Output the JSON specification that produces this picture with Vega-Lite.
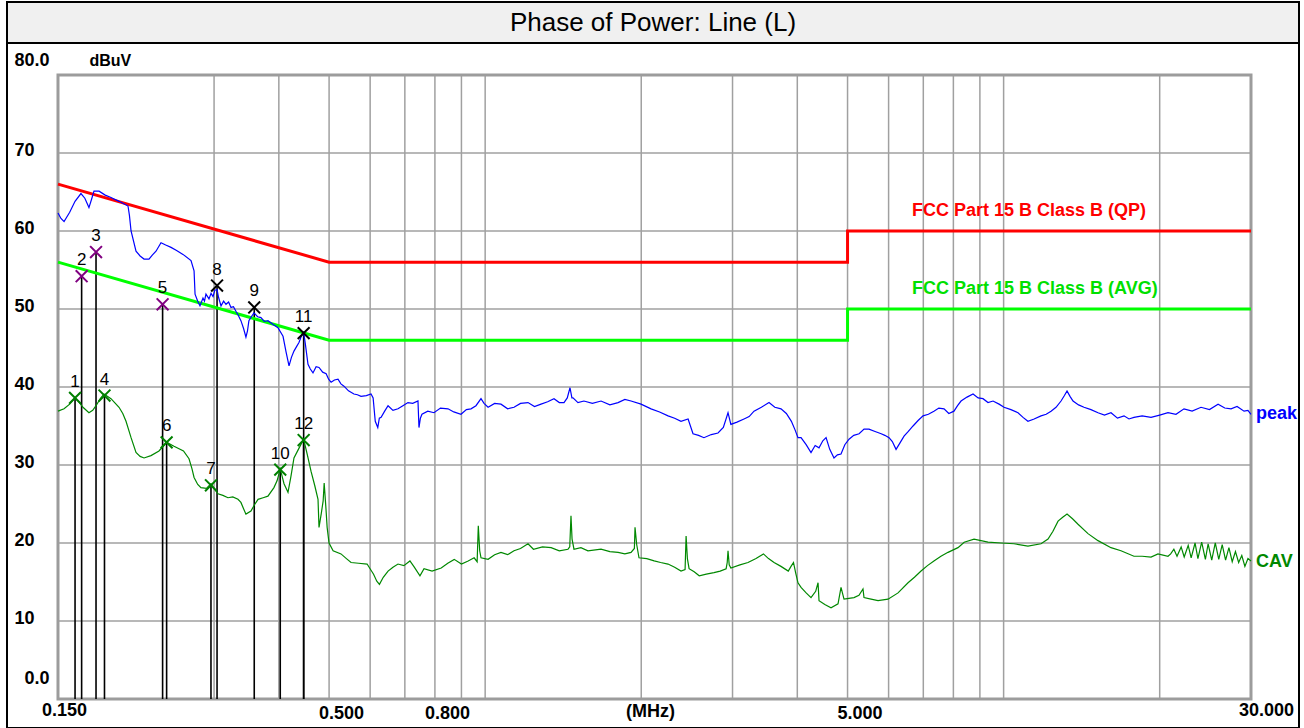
{
  "$schema": "https://vega.github.io/schema/vega-lite/v6.json",
  "background": "white",
  "padding": {"left": 6, "top": 1, "right": 5, "bottom": 0},
  "spacing": 0,
  "bounds": "flush",
  "config": {"view": {"stroke": null}, "font": "Liberation Sans"},
  "datasets": {
    "qp": [{"f":0.15,"db":66},{"f":0.5,"db":56},{"f":5,"db":56},{"f":5,"db":60},{"f":30,"db":60}],
    "avg": [{"f":0.15,"db":56},{"f":0.5,"db":46},{"f":5,"db":46},{"f":5,"db":50},{"f":30,"db":50}],
    "vgrid": [{"f":0.3},{"f":0.4},{"f":0.5},{"f":0.6},{"f":0.7},{"f":0.8},{"f":0.9},{"f":1},{"f":2},{"f":3},{"f":4},{"f":5},{"f":6},{"f":7},{"f":8},{"f":9},{"f":10},{"f":20}],
    "hgrid": [{"db":10},{"db":20},{"db":30},{"db":40},{"db":50},{"db":60},{"db":70}],
    "limitlabels": [{"label":"FCC Part 15 B Class B (QP)","f":6.658,"db":60,"lim":"QP"},{"label":"FCC Part 15 B Class B (AVG)","f":6.658,"db":50,"lim":"AVG"}],
    "endlabels": [{"label":"peak","f":30,"db":36.5,"lim":"peak"},{"label":"CAV","f":30,"db":17.6,"lim":"CAV"}],
    "markers": [
      {"n":1,"f":0.1618,"db":38.6,"det":"AVG"},
      {"n":2,"f":0.1666,"db":54.2,"det":"QP"},
      {"n":3,"f":0.1776,"db":57.3,"det":"QP"},
      {"n":4,"f":0.1844,"db":38.9,"det":"AVG"},
      {"n":5,"f":0.2387,"db":50.6,"det":"QP"},
      {"n":6,"f":0.2430,"db":32.9,"det":"AVG"},
      {"n":7,"f":0.2959,"db":27.4,"det":"AVG"},
      {"n":8,"f":0.3040,"db":53.0,"det":"PK"},
      {"n":9,"f":0.3586,"db":50.2,"det":"PK"},
      {"n":10,"f":0.4025,"db":29.4,"det":"AVG"},
      {"n":11,"f":0.4466,"db":46.9,"det":"PK"},
      {"n":12,"f":0.4466,"db":33.2,"det":"AVG"}
    ],
    "peak": [
      {"f":0.150,"db":62.3},{"f":0.1520,"db":61.6},{"f":0.1541,"db":61.2},{"f":0.1580,"db":62.4},{"f":0.1618,"db":63.8},{"f":0.1661,"db":64.8},{"f":0.1690,"db":64.2},{"f":0.1721,"db":63.0},{"f":0.1740,"db":64.0},{"f":0.1760,"db":65.1},{"f":0.1800,"db":65.1},{"f":0.1850,"db":64.6},{"f":0.1898,"db":64.3},{"f":0.1967,"db":63.8},{"f":0.2047,"db":63.2},{"f":0.2060,"db":62.0},{"f":0.2075,"db":60.0},{"f":0.2121,"db":57.4},{"f":0.2160,"db":56.8},{"f":0.2198,"db":56.4},{"f":0.2247,"db":56.4},{"f":0.2280,"db":56.9},{"f":0.2318,"db":57.4},{"f":0.2370,"db":58.5},{"f":0.2420,"db":58.2},{"f":0.2478,"db":57.9},{"f":0.2540,"db":57.5},{"f":0.2613,"db":57.0},{"f":0.2708,"db":56.2},{"f":0.2745,"db":54.9},{"f":0.2757,"db":51.9},{"f":0.2790,"db":51.0},{"f":0.2818,"db":50.4},{"f":0.2856,"db":51.4},{"f":0.2875,"db":51.0},{"f":0.2894,"db":51.9},{"f":0.2933,"db":51.3},{"f":0.2960,"db":52.0},{"f":0.2986,"db":51.6},{"f":0.3010,"db":52.4},{"f":0.3040,"db":52.5},{"f":0.3060,"db":51.5},{"f":0.3094,"db":50.4},{"f":0.3130,"db":51.0},{"f":0.3163,"db":50.6},{"f":0.3200,"db":50.9},{"f":0.3234,"db":50.2},{"f":0.3270,"db":50.3},{"f":0.3306,"db":49.7},{"f":0.3340,"db":49.2},{"f":0.3380,"db":48.5},{"f":0.3420,"db":47.5},{"f":0.3456,"db":46.4},{"f":0.3480,"db":47.2},{"f":0.3502,"db":48.5},{"f":0.3540,"db":49.0},{"f":0.3581,"db":49.5},{"f":0.3640,"db":49.0},{"f":0.3694,"db":48.9},{"f":0.3750,"db":48.4},{"f":0.3811,"db":48.5},{"f":0.3900,"db":48.0},{"f":0.3984,"db":47.6},{"f":0.4075,"db":46.5},{"f":0.4130,"db":44.5},{"f":0.4185,"db":42.7},{"f":0.4230,"db":43.8},{"f":0.4278,"db":44.6},{"f":0.4330,"db":45.2},{"f":0.4374,"db":45.7},{"f":0.4420,"db":46.5},{"f":0.4466,"db":47.0},{"f":0.4500,"db":45.5},{"f":0.4553,"db":42.9},{"f":0.4600,"db":42.3},{"f":0.4655,"db":41.8},{"f":0.4720,"db":42.6},{"f":0.4781,"db":42.5},{"f":0.4860,"db":41.9},{"f":0.4935,"db":41.7},{"f":0.4990,"db":41.0},{"f":0.5045,"db":40.6},{"f":0.5120,"db":40.9},{"f":0.5202,"db":41.0},{"f":0.5270,"db":40.4},{"f":0.5342,"db":40.1},{"f":0.5450,"db":39.5},{"f":0.5583,"db":39.1},{"f":0.5670,"db":39.0},{"f":0.5762,"db":38.8},{"f":0.5900,"db":38.9},{"f":0.6024,"db":39.1},{"f":0.6080,"db":38.6},{"f":0.6138,"db":35.6},{"f":0.6207,"db":34.8},{"f":0.6250,"db":36.0},{"f":0.6300,"db":36.1},{"f":0.6400,"db":36.9},{"f":0.6497,"db":37.6},{"f":0.6640,"db":37.0},{"f":0.6790,"db":37.2},{"f":0.6940,"db":37.6},{"f":0.7097,"db":38.0},{"f":0.7250,"db":37.9},{"f":0.7420,"db":38.2},{"f":0.7453,"db":34.8},{"f":0.7500,"db":36.0},{"f":0.7553,"db":36.5},{"f":0.7750,"db":36.9},{"f":0.7967,"db":36.7},{"f":0.8200,"db":37.3},{"f":0.8479,"db":37.2},{"f":0.8700,"db":36.8},{"f":0.8982,"db":36.5},{"f":0.9200,"db":37.1},{"f":0.9390,"db":37.2},{"f":0.9600,"db":37.6},{"f":0.9817,"db":38.5},{"f":0.9950,"db":37.9},{"f":1.0131,"db":37.4},{"f":1.0430,"db":37.9},{"f":1.0728,"db":37.8},{"f":1.1050,"db":37.2},{"f":1.1367,"db":37.4},{"f":1.1700,"db":37.9},{"f":1.2096,"db":38.0},{"f":1.2450,"db":37.5},{"f":1.2815,"db":37.8},{"f":1.3200,"db":38.1},{"f":1.3576,"db":38.5},{"f":1.3900,"db":38.0},{"f":1.4193,"db":38.0},{"f":1.4400,"db":38.6},{"f":1.4576,"db":39.9},{"f":1.4700,"db":38.6},{"f":1.4771,"db":38.6},{"f":1.5100,"db":38.0},{"f":1.5508,"db":38.2},{"f":1.6100,"db":37.9},{"f":1.6730,"db":38.2},{"f":1.7400,"db":37.7},{"f":1.8044,"db":38.0},{"f":1.8600,"db":38.4},{"f":1.9115,"db":38.2},{"f":1.9983,"db":37.8},{"f":2.0890,"db":37.2},{"f":2.1700,"db":36.8},{"f":2.2530,"db":36.3},{"f":2.3200,"db":36.0},{"f":2.3865,"db":35.6},{"f":2.4627,"db":35.9},{"f":2.5171,"db":34.0},{"f":2.5800,"db":33.8},{"f":2.6423,"db":33.5},{"f":2.7300,"db":33.9},{"f":2.8125,"db":34.1},{"f":2.8800,"db":34.8},{"f":2.9406,"db":36.7},{"f":2.9780,"db":35.2},{"f":3.0600,"db":35.5},{"f":3.1569,"db":35.9},{"f":3.2300,"db":36.2},{"f":3.3004,"db":36.9},{"f":3.4100,"db":37.4},{"f":3.5276,"db":38.0},{"f":3.6200,"db":37.4},{"f":3.7207,"db":37.2},{"f":3.8100,"db":36.6},{"f":3.8964,"db":35.6},{"f":3.9600,"db":34.5},{"f":4.0120,"db":33.5},{"f":4.0670,"db":33.5},{"f":4.1600,"db":32.6},{"f":4.2510,"db":31.6},{"f":4.3300,"db":32.5},{"f":4.4050,"db":32.2},{"f":4.4800,"db":33.1},{"f":4.5450,"db":33.5},{"f":4.6200,"db":32.0},{"f":4.7080,"db":30.9},{"f":4.7800,"db":31.3},{"f":4.8570,"db":31.4},{"f":4.9400,"db":32.6},{"f":5.0330,"db":33.3},{"f":5.1400,"db":33.8},{"f":5.2630,"db":34.0},{"f":5.3800,"db":34.6},{"f":5.4990,"db":34.6},{"f":5.6500,"db":34.3},{"f":5.8060,"db":34.0},{"f":5.9000,"db":33.8},{"f":6.0120,"db":33.5},{"f":6.1000,"db":33.0},{"f":6.2020,"db":32.0},{"f":6.3200,"db":32.9},{"f":6.4260,"db":33.7},{"f":6.5500,"db":34.3},{"f":6.6880,"db":35.0},{"f":6.8400,"db":35.7},{"f":6.9920,"db":36.3},{"f":7.1600,"db":36.5},{"f":7.3380,"db":36.9},{"f":7.5000,"db":37.3},{"f":7.6750,"db":37.2},{"f":7.8400,"db":36.6},{"f":8.0210,"db":36.9},{"f":8.1500,"db":37.6},{"f":8.2770,"db":38.2},{"f":8.5000,"db":38.7},{"f":8.7300,"db":39.1},{"f":8.9300,"db":38.6},{"f":9.1250,"db":38.5},{"f":9.3300,"db":38.0},{"f":9.5400,"db":38.2},{"f":9.8000,"db":37.8},{"f":10.017,"db":37.4},{"f":10.330,"db":37.1},{"f":10.660,"db":36.7},{"f":10.900,"db":36.1},{"f":11.140,"db":35.6},{"f":11.450,"db":35.9},{"f":11.806,"db":36.3},{"f":12.080,"db":36.5},{"f":12.345,"db":36.9},{"f":12.620,"db":37.4},{"f":12.905,"db":38.2},{"f":13.100,"db":38.9},{"f":13.253,"db":39.5},{"f":13.430,"db":38.8},{"f":13.610,"db":38.2},{"f":13.950,"db":37.7},{"f":14.290,"db":37.4},{"f":14.740,"db":37.1},{"f":15.208,"db":36.7},{"f":15.650,"db":36.4},{"f":16.110,"db":36.7},{"f":16.580,"db":36.0},{"f":17.070,"db":36.3},{"f":17.450,"db":35.9},{"f":17.840,"db":36.1},{"f":18.500,"db":36.3},{"f":19.245,"db":36.1},{"f":20.000,"db":36.4},{"f":20.750,"db":36.7},{"f":21.500,"db":36.5},{"f":22.280,"db":37.2},{"f":23.100,"db":36.9},{"f":24.030,"db":37.4},{"f":24.950,"db":37.1},{"f":25.920,"db":37.8},{"f":26.700,"db":37.3},{"f":27.460,"db":37.2},{"f":28.200,"db":37.5},{"f":29.090,"db":36.9},{"f":29.600,"db":37.0},{"f":30.000,"db":36.5}
    ],
    "cav": [
      {"f":0.150,"db":36.9},{"f":0.1541,"db":37.2},{"f":0.1580,"db":37.8},{"f":0.1618,"db":38.6},{"f":0.1650,"db":38.0},{"f":0.1676,"db":37.4},{"f":0.1721,"db":36.7},{"f":0.1750,"db":37.0},{"f":0.1776,"db":37.6},{"f":0.1810,"db":38.5},{"f":0.1840,"db":39.1},{"f":0.1898,"db":38.5},{"f":0.1967,"db":37.4},{"f":0.2000,"db":36.6},{"f":0.2029,"db":35.6},{"f":0.2075,"db":33.5},{"f":0.2121,"db":31.6},{"f":0.2160,"db":31.1},{"f":0.2198,"db":30.9},{"f":0.2267,"db":31.2},{"f":0.2349,"db":31.8},{"f":0.2400,"db":32.5},{"f":0.2430,"db":32.9},{"f":0.2511,"db":32.4},{"f":0.2619,"db":31.8},{"f":0.2684,"db":30.8},{"f":0.2720,"db":29.5},{"f":0.2745,"db":28.4},{"f":0.2790,"db":27.5},{"f":0.2830,"db":27.1},{"f":0.2900,"db":27.0},{"f":0.2959,"db":27.6},{"f":0.3000,"db":27.0},{"f":0.3053,"db":26.3},{"f":0.3120,"db":26.1},{"f":0.3191,"db":25.8},{"f":0.3260,"db":25.9},{"f":0.3336,"db":25.6},{"f":0.3380,"db":25.2},{"f":0.3420,"db":24.4},{"f":0.3456,"db":23.7},{"f":0.3534,"db":24.1},{"f":0.3590,"db":24.9},{"f":0.3647,"db":25.6},{"f":0.3730,"db":25.8},{"f":0.3811,"db":26.0},{"f":0.3914,"db":27.1},{"f":0.3970,"db":28.0},{"f":0.4025,"db":29.5},{"f":0.4093,"db":27.6},{"f":0.4166,"db":26.5},{"f":0.4220,"db":28.5},{"f":0.4278,"db":30.9},{"f":0.4370,"db":32.1},{"f":0.4466,"db":33.3},{"f":0.4540,"db":31.3},{"f":0.4614,"db":29.2},{"f":0.4690,"db":27.4},{"f":0.4760,"db":25.6},{"f":0.4781,"db":22.0},{"f":0.4830,"db":23.8},{"f":0.4870,"db":25.4},{"f":0.4892,"db":27.7},{"f":0.4930,"db":24.5},{"f":0.4957,"db":22.0},{"f":0.4999,"db":20.0},{"f":0.5090,"db":19.0},{"f":0.5272,"db":18.6},{"f":0.5400,"db":18.0},{"f":0.5512,"db":17.5},{"f":0.5700,"db":17.4},{"f":0.5919,"db":17.3},{"f":0.6092,"db":16.0},{"f":0.6180,"db":15.1},{"f":0.6253,"db":14.7},{"f":0.6360,"db":15.6},{"f":0.6497,"db":16.4},{"f":0.6640,"db":16.9},{"f":0.6790,"db":17.3},{"f":0.6970,"db":17.1},{"f":0.7160,"db":17.7},{"f":0.7300,"db":16.9},{"f":0.7486,"db":15.8},{"f":0.7622,"db":16.7},{"f":0.7900,"db":16.4},{"f":0.8227,"db":16.8},{"f":0.8470,"db":17.4},{"f":0.8716,"db":17.9},{"f":0.9000,"db":17.3},{"f":0.9273,"db":17.7},{"f":0.9522,"db":18.1},{"f":0.9650,"db":17.6},{"f":0.9700,"db":22.2},{"f":0.9760,"db":19.0},{"f":0.9817,"db":18.1},{"f":1.0131,"db":17.9},{"f":1.0430,"db":18.5},{"f":1.0728,"db":18.8},{"f":1.1050,"db":18.5},{"f":1.1367,"db":19.0},{"f":1.1700,"db":19.3},{"f":1.2096,"db":19.9},{"f":1.2392,"db":19.2},{"f":1.2900,"db":19.5},{"f":1.3404,"db":19.4},{"f":1.3900,"db":19.0},{"f":1.4447,"db":19.2},{"f":1.4560,"db":19.5},{"f":1.4640,"db":23.5},{"f":1.4710,"db":20.5},{"f":1.4836,"db":19.2},{"f":1.5300,"db":19.4},{"f":1.5784,"db":19.0},{"f":1.6730,"db":19.2},{"f":1.7400,"db":18.9},{"f":1.8044,"db":18.8},{"f":1.8600,"db":18.6},{"f":1.9115,"db":18.8},{"f":1.9400,"db":19.3},{"f":1.9456,"db":22.0},{"f":1.9600,"db":19.8},{"f":1.9803,"db":18.1},{"f":2.0500,"db":18.0},{"f":2.1183,"db":17.7},{"f":2.1800,"db":17.5},{"f":2.2530,"db":17.3},{"f":2.3200,"db":16.9},{"f":2.3865,"db":16.4},{"f":2.4300,"db":16.6},{"f":2.4409,"db":20.9},{"f":2.4550,"db":18.0},{"f":2.4737,"db":16.7},{"f":2.5300,"db":16.3},{"f":2.5875,"db":15.8},{"f":2.6700,"db":16.0},{"f":2.7626,"db":16.2},{"f":2.8400,"db":16.4},{"f":2.9159,"db":16.7},{"f":2.9300,"db":17.5},{"f":2.9406,"db":19.0},{"f":2.9560,"db":17.2},{"f":2.9780,"db":16.8},{"f":3.1000,"db":17.2},{"f":3.2135,"db":17.5},{"f":3.3300,"db":18.0},{"f":3.4415,"db":18.6},{"f":3.5200,"db":18.0},{"f":3.6076,"db":17.5},{"f":3.7200,"db":17.0},{"f":3.8428,"db":16.4},{"f":3.8900,"db":17.0},{"f":3.9327,"db":17.5},{"f":3.9700,"db":16.2},{"f":4.0120,"db":14.9},{"f":4.0670,"db":14.3},{"f":4.1600,"db":13.6},{"f":4.2510,"db":13.0},{"f":4.3400,"db":13.8},{"f":4.3860,"db":14.9},{"f":4.4050,"db":12.6},{"f":4.5200,"db":12.1},{"f":4.6460,"db":11.7},{"f":4.7930,"db":12.2},{"f":4.8570,"db":14.3},{"f":4.9220,"db":12.8},{"f":5.0300,"db":12.9},{"f":5.1450,"db":13.0},{"f":5.2600,"db":13.3},{"f":5.3550,"db":14.1},{"f":5.3790,"db":13.0},{"f":5.5500,"db":12.8},{"f":5.7250,"db":12.6},{"f":5.9850,"db":12.8},{"f":6.2570,"db":13.6},{"f":6.5410,"db":14.9},{"f":6.7300,"db":15.6},{"f":6.9300,"db":16.4},{"f":7.1300,"db":17.1},{"f":7.3380,"db":17.7},{"f":7.5700,"db":18.3},{"f":7.8120,"db":18.8},{"f":8.1650,"db":19.4},{"f":8.3930,"db":20.1},{"f":8.7690,"db":20.5},{"f":9.3300,"db":20.1},{"f":9.8850,"db":20.0},{"f":10.470,"db":19.9},{"f":11.140,"db":19.6},{"f":11.806,"db":19.9},{"f":12.180,"db":20.5},{"f":12.450,"db":21.5},{"f":12.735,"db":22.8},{"f":13.000,"db":23.3},{"f":13.253,"db":23.7},{"f":13.580,"db":23.1},{"f":13.916,"db":22.4},{"f":14.546,"db":21.2},{"f":15.208,"db":20.3},{"f":16.110,"db":19.4},{"f":16.840,"db":19.0},{"f":17.840,"db":18.3},{"f":18.500,"db":18.3},{"f":19.245,"db":18.2},{"f":19.850,"db":18.6},{"f":20.750,"db":18.3},{"f":21.000,"db":18.6},{"f":21.300,"db":19.2},{"f":21.600,"db":18.3},{"f":22.000,"db":19.5},{"f":22.300,"db":18.2},{"f":22.700,"db":19.7},{"f":23.000,"db":18.1},{"f":23.400,"db":20.0},{"f":23.700,"db":18.0},{"f":24.100,"db":20.1},{"f":24.500,"db":17.9},{"f":24.800,"db":19.9},{"f":25.200,"db":17.8},{"f":25.600,"db":20.0},{"f":26.000,"db":17.9},{"f":26.400,"db":19.8},{"f":26.800,"db":17.8},{"f":27.200,"db":19.4},{"f":27.600,"db":17.6},{"f":28.000,"db":18.9},{"f":28.400,"db":17.5},{"f":28.800,"db":18.4},{"f":29.200,"db":17.0},{"f":29.600,"db":18.0},{"f":30.000,"db":17.7}
    ]
  },
  "vconcat": [
    {
      "width": 1292,
      "height": 41,
      "view": {"fill": "#f0f0f0", "stroke": "#000000", "strokeWidth": 2},
      "data": {"values": [{"t": "Phase of Power: Line (L)"}]},
      "mark": {"type": "text", "font": "Liberation Sans", "fontSize": 26, "color": "#000000", "baseline": "middle", "align": "center"},
      "encoding": {"text": {"field": "t", "type": "nominal"}}
    },
    {
      "width": 1292,
      "height": 685,
      "view": {"fill": "#ffffff", "stroke": "#000000", "strokeWidth": 2},
      "layer": [
        {
          "data": {"name": "peak"},
          "mark": {"type": "line", "color": "#0000ff", "strokeWidth": 0, "opacity": 0},
          "encoding": {
            "x": {
              "field": "f", "type": "quantitative",
              "scale": {"type": "log", "domain": [0.1196, 37.13], "nice": false},
              "axis": {
                "orient": "bottom", "offset": -29,
                "values": [0.15, 0.5, 0.8, 5, 30],
                "labelExpr": "datum.value == 30 ? '30.000' : format(datum.value, '.3f')",
                "domain": false, "ticks": false, "tickSize": 0, "grid": false,
                "labelFlush": false, "labelOverlap": false, "labelBound": false,
                "labelAlign": "center", "labelBaseline": "top",
                "labelPadding": {"condition": {"test": "datum.value == 0.15 || datum.value == 30", "value": 2}, "value": 5},
                "labelOffset": {"condition": [{"test": "datum.value == 0.15", "value": 6}, {"test": "datum.value == 30", "value": 15}], "value": 12},
                "labelFont": "Liberation Sans", "labelFontSize": 18, "labelFontWeight": "bold", "labelColor": "#000000",
                "title": "(MHz)", "titleX": 643, "titleY": 12, "titleAlign": "center", "titleBaseline": "middle", "titleAngle": 0,
                "titleFont": "Liberation Sans", "titleFontSize": 18, "titleFontWeight": "bold", "titleColor": "#000000"
              }
            },
            "y": {
              "field": "db", "type": "quantitative",
              "scale": {"domain": [-3.72, 84.1], "nice": false, "zero": false},
              "axis": {
                "orient": "left", "offset": -51,
                "values": [0, 10, 20, 30, 40, 50, 60, 70, 80],
                "labelExpr": "datum.value == 0 ? '0.0' : datum.value == 80 ? '80.0' : format(datum.value, 'd')",
                "domain": false, "ticks": false, "tickSize": 0, "grid": false,
                "labelFlush": false, "labelOverlap": false, "labelBound": false,
                "labelAlign": "left", "labelBaseline": "middle",
                "labelPadding": {"condition": {"test": "datum.value == 0", "value": 34}, "value": 44},
                "labelOffset": {"condition": [{"test": "datum.value == 80", "value": -14}, {"test": "datum.value == 0", "value": -20}], "value": -2},
                "labelFont": "Liberation Sans", "labelFontSize": 18, "labelFontWeight": "bold", "labelColor": "#000000",
                "title": "dBuV", "titleAngle": 0, "titleX": 31, "titleY": 17, "titleAlign": "left", "titleBaseline": "middle",
                "titleFont": "Liberation Sans", "titleFontSize": 16, "titleFontWeight": "bold", "titleColor": "#000000"
              }
            },
            "order": {"value": null}
          }
        },
        {
          "data": {"name": "vgrid"},
          "mark": {"type": "rule", "color": "#a0a0a0", "strokeWidth": 1.5},
          "encoding": {
            "x": {"field": "f", "type": "quantitative"},
            "y": {"datum": 0, "type": "quantitative"},
            "y2": {"datum": 80}
          }
        },
        {
          "data": {"name": "hgrid"},
          "mark": {"type": "rule", "color": "#a0a0a0", "strokeWidth": 1.5},
          "encoding": {
            "y": {"field": "db", "type": "quantitative"},
            "x": {"datum": 0.15, "type": "quantitative"},
            "x2": {"datum": 30}
          }
        },
        {
          "data": {"values": [{"frame": "plot"}]},
          "mark": {"type": "rect", "filled": false, "stroke": "#9c9c9c", "strokeWidth": 3},
          "encoding": {
            "x": {"datum": 0.15, "type": "quantitative"},
            "x2": {"datum": 30},
            "y": {"datum": 0, "type": "quantitative"},
            "y2": {"datum": 80}
          }
        },
        {
          "data": {"name": "markers"},
          "mark": {"type": "rule", "color": "#000000", "strokeWidth": 1.6},
          "encoding": {
            "x": {"field": "f", "type": "quantitative"},
            "y": {"field": "db", "type": "quantitative"},
            "y2": {"datum": 0}
          }
        },
        {
          "data": {"name": "qp"},
          "mark": {"type": "line", "color": "#ff0000", "strokeWidth": 3, "interpolate": "linear"},
          "encoding": {
            "x": {"field": "f", "type": "quantitative"},
            "y": {"field": "db", "type": "quantitative"},
            "order": {"value": null}
          }
        },
        {
          "data": {"name": "avg"},
          "mark": {"type": "line", "color": "#00ff00", "strokeWidth": 3, "interpolate": "linear"},
          "encoding": {
            "x": {"field": "f", "type": "quantitative"},
            "y": {"field": "db", "type": "quantitative"},
            "order": {"value": null}
          }
        },
        {
          "data": {"name": "cav"},
          "mark": {"type": "line", "color": "#008800", "strokeWidth": 1.2},
          "encoding": {
            "x": {"field": "f", "type": "quantitative"},
            "y": {"field": "db", "type": "quantitative"},
            "order": {"value": null}
          }
        },
        {
          "data": {"name": "peak"},
          "mark": {"type": "line", "color": "#0000ff", "strokeWidth": 1.2},
          "encoding": {
            "x": {"field": "f", "type": "quantitative"},
            "y": {"field": "db", "type": "quantitative"},
            "order": {"value": null}
          }
        },
        {
          "data": {"name": "markers"},
          "mark": {"type": "point", "shape": "M-1,-1L1,1M1,-1L-1,1", "filled": false, "strokeWidth": 2, "size": 140, "opacity": 1},
          "encoding": {
            "x": {"field": "f", "type": "quantitative"},
            "y": {"field": "db", "type": "quantitative"},
            "stroke": {"field": "det", "type": "nominal", "scale": {"domain": ["AVG", "QP", "PK"], "range": ["#008000", "#800080", "#000000"]}, "legend": null}
          }
        },
        {
          "data": {"name": "markers"},
          "mark": {"type": "text", "dy": -16, "font": "Liberation Sans", "fontSize": 17, "color": "#000000", "align": "center", "baseline": "middle"},
          "encoding": {
            "x": {"field": "f", "type": "quantitative"},
            "y": {"field": "db", "type": "quantitative"},
            "text": {"field": "n", "type": "nominal"}
          }
        },
        {
          "data": {"name": "limitlabels"},
          "mark": {"type": "text", "dy": -20, "font": "Liberation Sans", "fontSize": 18, "fontWeight": "bold", "align": "left", "baseline": "middle"},
          "encoding": {
            "x": {"field": "f", "type": "quantitative"},
            "y": {"field": "db", "type": "quantitative"},
            "text": {"field": "label", "type": "nominal"},
            "color": {"field": "lim", "type": "nominal", "scale": {"domain": ["QP", "AVG", "peak", "CAV"], "range": ["#ff0000", "#00e000", "#0000ff", "#008800"]}, "legend": null}
          }
        },
        {
          "data": {"name": "endlabels"},
          "mark": {"type": "text", "dx": 5, "font": "Liberation Sans", "fontSize": 18, "fontWeight": "bold", "align": "left", "baseline": "middle"},
          "encoding": {
            "x": {"field": "f", "type": "quantitative"},
            "y": {"field": "db", "type": "quantitative"},
            "text": {"field": "label", "type": "nominal"},
            "color": {"field": "lim", "type": "nominal", "legend": null}
          }
        }
      ]
    }
  ]
}
